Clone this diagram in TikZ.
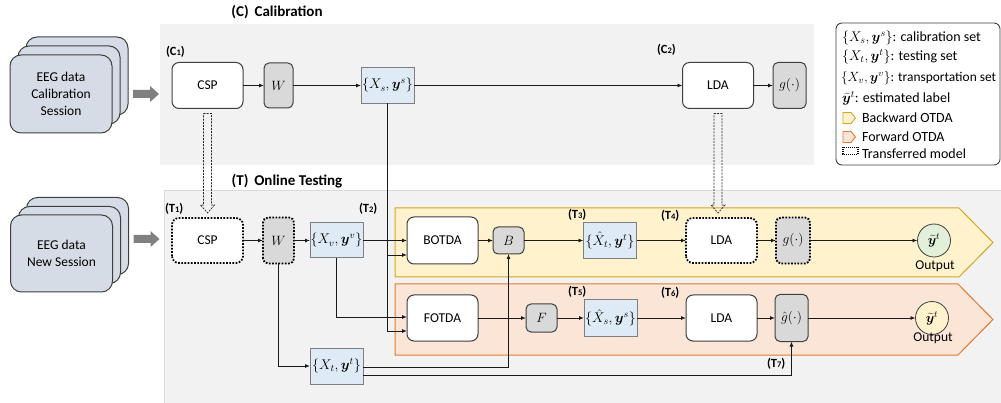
\RequirePackage{fix-cm}
\documentclass[tikz,border=0pt]{standalone}
\usepackage{fontspec}
\setmainfont{Carlito}
\usepackage{bm}
\usetikzlibrary{arrows.meta,calc}

\definecolor{panel}{HTML}{F2F2F2}
\definecolor{panelline}{HTML}{DADADA}
\definecolor{eegfill}{HTML}{D6DCE5}
\definecolor{boxedge}{HTML}{3F3F3F}
\definecolor{setblue}{HTML}{DEEBF7}
\definecolor{setedge}{HTML}{7F7F7F}
\definecolor{gfill}{HTML}{D9D9D9}
\definecolor{bfill}{HTML}{FFF2CC}
\definecolor{bedge}{HTML}{D6A520}
\definecolor{ffill}{HTML}{FBE5D6}
\definecolor{fedge}{HTML}{E2792F}
\definecolor{outgreen}{HTML}{E2F0D9}
\definecolor{outyellow}{HTML}{FFF2CC}
\definecolor{bigarrow}{HTML}{808080}

% bold step label such as (C1), with a small index
\newcommand\steplabel[2]{(#1{\fontsize{8.5}{9}\selectfont #2})}

% hollow dashed arrow carrying a trained model from one node down to another
\newcommand\xferarrow[2]{%
  \coordinate (xa) at ($(#1.south)+(0,5)$);
  \coordinate (xb) at (xa |- #2.north);
  \draw[hollow] ($(xa)+(-4,0)$) -- ($(xa)+(4,0)$) -- ($(xb)+(4,-13)$)
    -- ($(xb)+(7,-13)$) -- ($(xb)+(0,-5)$) -- ($(xb)+(-7,-13)$)
    -- ($(xb)+(-4,-13)$) -- cycle;}

\begin{document}
\begin{tikzpicture}[x=1pt,y=-1pt,
  every node/.style={inner sep=0pt, outer sep=0pt, font=\fontsize{13.5}{15}\selectfont},
  blk/.style={draw=boxedge, line width=1pt, rounded corners=7pt, fill=white,
    minimum width=71pt, minimum height=46pt},
  gbx/.style={draw=boxedge, line width=1pt, rounded corners=5pt, fill=gfill,
    minimum width=31pt, minimum height=46pt},
  setbx/.style={draw=setedge, line width=1pt, fill=setblue,
    minimum width=53pt, minimum height=36pt, font=\fontsize{14}{15}\selectfont},
  xfer/.style={draw=black, line width=1.8pt, dash pattern=on 1.7pt off 1.5pt},
  eegbx/.style={draw=boxedge, line width=1pt, fill=eegfill, rounded corners=11pt,
    minimum width=102pt, minimum height=78pt, align=center,
    font=\fontsize{13.5}{17}\selectfont},
  outc/.style={circle, draw=boxedge, line width=0.8pt, minimum size=33pt},
  lab/.style={anchor=west, font=\bfseries\fontsize{12.5}{14}\selectfont},
  title/.style={font=\bfseries\fontsize{15}{17}\selectfont},
  legtext/.style={anchor=west, font=\fontsize{14}{16}\selectfont},
  con/.style={draw=black!90, line width=0.9pt},
  arr/.style={con, -{Latex[length=5pt,width=4pt]}},
  hollow/.style={draw=black!85, line width=0.7pt, dash pattern=on 2pt off 1.2pt},
  fatarrow/.style={fill=bigarrow}]

\useasboundingbox (0,0) rectangle (1001,403);

% ---- panels ----
\fill[panel] (160,24) rectangle (814,165);
\fill[panel] (164,190) rectangle (1001,403);
\draw[panelline, line width=0.8pt] (164,403) -- (164,190) -- (1001,190);

\node[title] (ctitle) at (277,12) {(C)\, Calibration};
\node[title] (ttitle) at (287,181) {(T)\, Online Testing};

% ---- OTDA bands ----
\draw[fill=bfill, draw=bedge, line width=1pt]
  (395,208) -- (959,208) -- (993,242.5) -- (959,277) -- (395,277) -- cycle;
\draw[fill=ffill, draw=fedge, line width=1pt]
  (395,284) -- (958,284) -- (993,319.5) -- (958,355) -- (395,355) -- cycle;

% ---- EEG data stacks ----
\node[eegbx] (ceeg3) at (77,76) {};
\node[eegbx] (ceeg2) at (69,85) {};
\node[eegbx] (ceeg) at (61,94) {EEG data\\Calibration\\Session};
\node[eegbx, minimum height=77pt] (teeg3) at (77.5,236) {};
\node[eegbx, minimum height=77pt] (teeg2) at (69.5,245) {};
\node[eegbx, minimum height=77pt] (teeg) at (61.5,253.5) {EEG data\\New Session};

% ---- calibration nodes ----
\node[blk] (cspc) at (207.5,85.5) {CSP};
\node[gbx, minimum width=29pt, minimum height=45pt] (wc) at (278.5,85.5) {$W$};
\node[setbx] (xs) at (387.5,85.5) {$\{X_s,\bm{y}^s\}$};
\node[blk] (ldac) at (718,85.5) {LDA};
\node[gbx, minimum width=33pt] (gc) at (789.5,85.5) {$g(\cdot)$};
\node[lab] (c1) at (166,52) {\steplabel{C}{1}};
\node[lab] (c2) at (657,50) {\steplabel{C}{2}};

% ---- testing nodes ----
\node[blk, draw=none, minimum height=45pt] (cspt) at (207.5,240.5) {CSP};
\draw[xfer, rounded corners=7pt] (cspt.south west) rectangle (cspt.north east);
\node[gbx, draw=none] (wt) at (278.5,240.5) {$W$};
\draw[xfer, rounded corners=5pt] (wt.south west) rectangle (wt.north east);
\node[setbx, minimum height=35pt] (xv) at (336.5,240.5) {$\{X_v,\bm{y}^v\}$};
\node[setbx] (xt) at (336.5,366) {$\{X_t,\bm{y}^t\}$};
\node[blk, minimum height=47pt] (botda) at (442.5,240.5) {BOTDA};
\node[gbx, minimum height=27pt] (bmap) at (508.5,240.5) {$B$};
\node[setbx] (xht) at (610,240.5) {$\{\hat{X}_t,\bm{y}^t\}$};
\node[blk, draw=none, minimum height=45pt] (ldat) at (721.5,240.5) {LDA};
\draw[xfer, rounded corners=7pt] (ldat.south west) rectangle (ldat.north east);
\node[gbx, draw=none, minimum width=34pt] (gt) at (793,240.5) {$g(\cdot)$};
\draw[xfer, rounded corners=5pt] (gt.south west) rectangle (gt.north east);
\node[outc, fill=outgreen] (out1) at (934,240.5) {$\widetilde{\bm{y}}^t$};
\node (out1l) at (935,266) {Output};

\node[blk] (fotda) at (442.5,318) {FOTDA};
\node[gbx, minimum height=28pt] (fmap) at (541.5,318) {$F$};
\node[setbx] (xhs) at (610.5,318) {$\{\hat{X}_s,\bm{y}^s\}$};
\node[blk] (ldaf) at (721.5,318) {LDA};
\node[gbx, minimum width=33pt, minimum height=47pt] (gh) at (791.5,318) {$\hat{g}(\cdot)$};
\node[outc, fill=outyellow] (out2) at (932,318) {$\widetilde{\bm{y}}^t$};
\node (out2l) at (933,338.5) {Output};

\node[lab] (t1) at (165,209) {\steplabel{T}{1}};
\node[lab] (t2) at (359,209) {\steplabel{T}{2}};
\node[lab] (t3) at (568,215) {\steplabel{T}{3}};
\node[lab] (t4) at (661,216) {\steplabel{T}{4}};
\node[lab] (t5) at (568,292) {\steplabel{T}{5}};
\node[lab] (t6) at (661,293) {\steplabel{T}{6}};
\node[lab] (t7) at (767,364) {\steplabel{T}{7}};

% ---- wide grey input arrows ----
\fill[fatarrow] ($(ceeg.east)+(21,-4)$) -- ++(17,0) -- ++(0,-4) -- ++(9,8)
  -- ++(-9,8) -- ++(0,-4) -- ++(-17,0) -- cycle;
\fill[fatarrow] ($(teeg.east)+(21,-18.5)$) -- ++(17,0) -- ++(0,-4) -- ++(9,8)
  -- ++(-9,8) -- ++(0,-4) -- ++(-17,0) -- cycle;

% ---- transferred models ----
\xferarrow{cspc}{cspt}
\xferarrow{ldac}{ldat}

% ---- calibration connectors ----
\draw[arr] (cspc) -- (wc);
\draw[arr] (wc) -- (xs);
\draw[arr] (xs) -- (ldac);
\draw[arr] (ldac) -- (gc);
\draw[arr] (xs.south) |- ($(botda.west)+(0,14.5)$);
\draw[arr] (xs.south) |- ($(fotda.west)+(0,13)$);

% ---- testing connectors ----
\draw[arr] (cspt) -- (wt);
\draw[arr] (wt) -- (xv);
\draw[arr] (wt.south) |- (xt.west);
\draw[arr] (xv) -- (botda);
\draw[arr] (xv.south) |- ($(fotda.west)+(0,-1)$);
\draw[arr] ($(xt.east)+(0,1)$) -| (bmap.south);
\draw[arr] ($(xt.east)+(0,9)$) -| (gh.south);
\draw[arr] (botda) -- (bmap);
\draw[arr] (bmap) -- (xht);
\draw[arr] (xht) -- (ldat);
\draw[arr] (ldat) -- (gt);
\draw[arr] (gt) -- (out1);
\draw[arr] (fotda) -- (fmap);
\draw[arr] (fmap) -- (xhs);
\draw[arr] (xhs) -- (ldaf);
\draw[arr] (ldaf) -- (gh);
\draw[arr] (gh) -- (out2);

% ---- legend ----
\draw[draw=boxedge, fill=white, line width=0.9pt, rounded corners=6pt]
  (836,23) rectangle (1000,165);
\node[legtext] (l1) at (842,38) {$\{X_s,\bm{y}^s\}$: calibration set};
\node[legtext] (l2) at (842,57) {$\{X_t,\bm{y}^t\}$: testing set};
\node[legtext, font=\fontsize{13.4}{16}\selectfont] (l3) at (841,78)
  {$\{X_v,\bm{y}^v\}$: transportation set};
\node[legtext] (l4) at (842,98) {$\widetilde{\bm{y}}^t$: estimated label};
\draw[fill=bfill, draw=bedge, line width=0.9pt]
  (843,112.5) -- (851,112.5) -- (855.5,118) -- (851,123.5) -- (843,123.5) -- cycle;
\node[legtext] (l5) at (862,118) {Backward OTDA};
\draw[fill=ffill, draw=fedge, line width=0.9pt]
  (843,131.5) -- (851,131.5) -- (855.5,137) -- (851,142.5) -- (843,142.5) -- cycle;
\node[legtext] (l6) at (862,137) {Forward OTDA};
\draw[draw=black, line width=1.1pt, dash pattern=on 1pt off 1pt]
  (843,147.5) rectangle (858,154.5);
\node[legtext] (l7) at (862,154) {Transferred model};
\end{tikzpicture}
\end{document}
